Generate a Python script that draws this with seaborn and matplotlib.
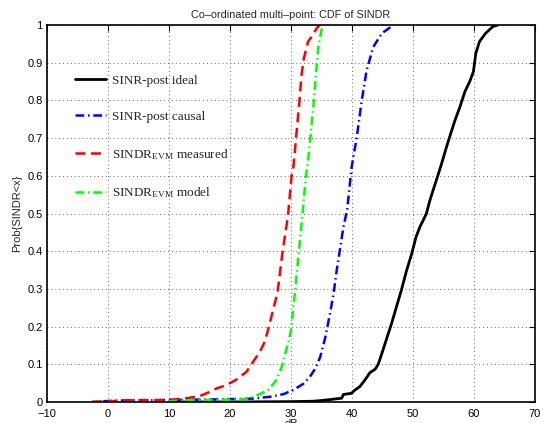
import matplotlib
matplotlib.use("Agg")
import matplotlib.pyplot as plt
import seaborn as sns

# ---- data ----
ideal_x = [10, 20, 30, 33.5, 34.75, 36.7, 38.3, 38.6, 39.9, 40.5, 41.3, 42.1, 42.95, 43.8,
           44.3, 44.9, 45.7, 46.5, 47.3, 48.1, 48.9, 49.8, 50.5, 51.15, 51.7, 52.2, 52.7,
           53.3, 54.1, 54.7, 55.5, 56.2, 56.9, 57.7, 58.5, 59.3, 59.9, 60.3, 60.9, 61.9,
           63.1, 63.9]
ideal_y = [0, 0, 0.001, 0.002, 0.0035, 0.007, 0.01, 0.02, 0.023, 0.032, 0.041, 0.058, 0.078,
           0.087, 0.10, 0.129, 0.169, 0.209, 0.253, 0.297, 0.346, 0.394, 0.438, 0.465, 0.483,
           0.50, 0.531, 0.562, 0.602, 0.633, 0.677, 0.713, 0.748, 0.783, 0.823, 0.85, 0.876,
           0.925, 0.956, 0.978, 0.996, 1.0]

causal_x = [-0.8, 2, 9, 12.9, 18.4, 23.8, 26.6, 28.8, 30.4, 32.0, 33.1, 34.0, 34.8, 35.6,
            36.4, 37.0, 37.5, 38.1, 38.6, 39.2, 39.95, 40.8, 41.6, 42.4, 43.5, 44.9, 46.8]
causal_y = [0.002, 0.004, 0.005, 0.006, 0.007, 0.009, 0.014, 0.021, 0.032, 0.048, 0.067,
            0.089, 0.12, 0.17, 0.235, 0.29, 0.35, 0.412, 0.465, 0.509, 0.624, 0.704, 0.80,
            0.88, 0.942, 0.978, 1.0]

meas_x = [-2.6, 0, 2, 4.2, 8.5, 11.0, 12.9, 15.1, 16.7, 17.8, 19.45, 21.1, 22.7, 23.8, 24.9,
          25.7, 26.3, 27.8, 28.6, 29.5, 30.1, 30.4, 30.95, 31.4, 31.7, 32.1, 32.8, 33.4,
          34.2, 34.75]
meas_y = [0.001, 0.002, 0.003, 0.005, 0.005, 0.007, 0.01, 0.016, 0.027, 0.036, 0.045, 0.06,
          0.08, 0.107, 0.133, 0.16, 0.195, 0.291, 0.396, 0.493, 0.6, 0.624, 0.721, 0.80,
          0.863, 0.911, 0.956, 0.969, 0.991, 1.0]

model_x = [9.9, 11.8, 16, 20, 22.7, 24.9, 26.3, 27.6, 28.5, 29.0, 29.6, 30.0, 30.7, 31.3,
           31.9, 32.45, 32.8, 33.2, 33.7, 34.1, 34.5, 35.0, 35.3]
model_y = [0.002, 0.004, 0.005, 0.006, 0.008, 0.021, 0.032, 0.058, 0.094, 0.125, 0.16, 0.19,
           0.3, 0.4, 0.5, 0.6, 0.64, 0.704, 0.79, 0.87, 0.942, 0.987, 1.0]

labels = ["SINR-post ideal", "SINR-post causal",
          r"SINDR$_{\mathrm{EVM}}$ measured", r"SINDR$_{\mathrm{EVM}}$ model"]
x_ticks = [-10, 0, 10, 20, 30, 40, 50, 60, 70]
x_tick_labels = ["\u221210", "0", "10", "20", "30", "40", "50", "60", "70"]
y_ticks = [0, 0.1, 0.2, 0.3, 0.4, 0.5, 0.6, 0.7, 0.8, 0.9, 1]
y_tick_labels = ["0", "0.1", "0.2", "0.3", "0.4", "0.5", "0.6", "0.7", "0.8", "0.9", "1"]
title = "Co\u2013ordinated multi\u2013point: CDF of SINDR"
xlabel = "dB"
ylabel = "Prob{SINDR<x}"

# ---- style ----
sns.set_style("white")
plt.rcParams["font.family"] = ["Liberation Sans", "DejaVu Sans"]
plt.rcParams["mathtext.fontset"] = "custom"
plt.rcParams["mathtext.rm"] = "Liberation Serif"
plt.rcParams["mathtext.it"] = "Liberation Serif:italic"
plt.rcParams["mathtext.bf"] = "Liberation Serif:bold"

fig = plt.figure(figsize=(5.5, 4.23), dpi=100)
ax = fig.add_axes([47 / 550, 1 - 402 / 423, (535 - 47) / 550, (402 - 25) / 423])

sns.lineplot(x=ideal_x, y=ideal_y, sort=False, estimator=None, ax=ax, color="black",
             linewidth=2.0, linestyle="-", label=labels[0])
sns.lineplot(x=causal_x, y=causal_y, sort=False, estimator=None, ax=ax, color="#0000ff",
             linewidth=1.8, linestyle=(0, (3.5, 1.5, 0.6, 1.5)), label=labels[1])
sns.lineplot(x=meas_x, y=meas_y, sort=False, estimator=None, ax=ax, color="#ff0000",
             linewidth=1.8, linestyle=(0, (4, 2.2)), label=labels[2])
sns.lineplot(x=model_x, y=model_y, sort=False, estimator=None, ax=ax, color="#00ff00",
             linewidth=1.8, linestyle=(0, (3.5, 1.5, 0.6, 1.5)), label=labels[3])

ax.set_xlim(-10, 70)
ax.set_ylim(0, 1)
ax.set_xticks(x_ticks)
ax.set_xticklabels(x_tick_labels)
ax.set_yticks(y_ticks)
ax.set_yticklabels(y_tick_labels)
ax.tick_params(direction="in", length=4, width=0.8, labelsize=8, top=True, right=True,
               colors="black")
ax.tick_params(axis="x", pad=5)
ax.tick_params(axis="y", pad=3)
ax.grid(True, linestyle=(0, (1, 3)), color="#666666", linewidth=0.7)
for sp in ax.spines.values():
    sp.set_visible(True)
    sp.set_color("black")
    sp.set_linewidth(1.2)

ax.set_title(title, fontsize=7.8, pad=5)
ax.set_xlabel(xlabel, fontsize=8, labelpad=0)
ax.set_ylabel(ylabel, fontsize=8, labelpad=4)

leg = ax.legend(loc="upper left", bbox_to_anchor=(0.047, 0.882), frameon=False,
                prop={"family": "Liberation Serif", "size": 9.5},
                handlelength=2.35, handletextpad=0.45, labelspacing=1.8,
                borderaxespad=0)

fig.savefig("out.png", dpi=100)
